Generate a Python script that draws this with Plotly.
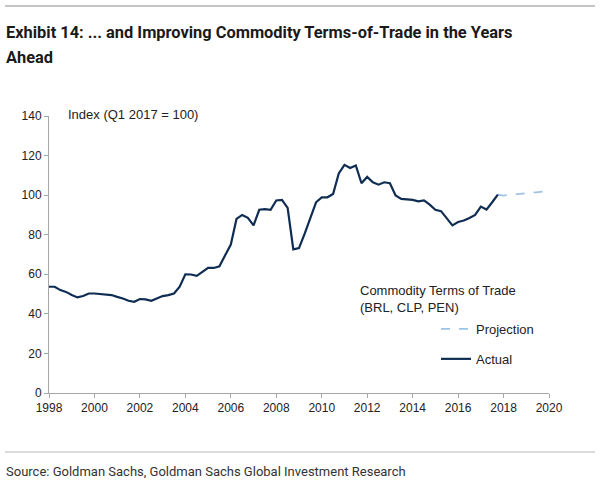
import plotly.graph_objects as go

# ---- data ----
start_year = 1998
actual_values = [
    53.7, 53.7, 52.0, 51.1,   # 1998
    49.5, 48.3, 49.0, 50.3,   # 1999
    50.3, 50.0, 49.8, 49.5,   # 2000
    48.6, 47.8, 46.6, 46.1,   # 2001
    47.5, 47.3, 46.6, 47.8,   # 2002
    49.0, 49.5, 50.3, 53.7,   # 2003
    60.0, 59.9, 59.2, 61.2,   # 2004
    63.2, 63.2, 64.0, 69.6,   # 2005
    75.0, 88.0, 90.0, 88.5,   # 2006
    84.7, 92.6, 92.9, 92.6,   # 2007
    97.3, 97.6, 93.6, 72.6,   # 2008
    73.2, 80.5, 88.9, 96.4,   # 2009
    98.9, 98.9, 100.6, 111.0, # 2010
    115.3, 113.7, 115.0, 106.0,  # 2011
    109.2, 106.5, 105.3, 106.5,  # 2012
    106.0, 99.8, 98.1, 97.9,  # 2013
    97.6, 96.9, 97.3, 95.2,   # 2014
    92.6, 91.9, 88.0, 84.7,   # 2015
    86.4, 87.2, 88.5, 90.0,   # 2016
    94.2, 92.7, 96.4, 100.3,  # 2017
]
actual_x = [start_year + 0.25 * i for i in range(len(actual_values))]

projection_x = [2017.75, 2018.0, 2019.75]
projection_values = [100.3, 99.8, 101.8]

x_ticks = list(range(1998, 2021, 2))
y_ticks = list(range(0, 141, 20))

title_line1 = "Exhibit 14: ... and Improving Commodity Terms-of-Trade in the Years"
title_line2 = "Ahead"
source_text = "Source: Goldman Sachs, Goldman Sachs Global Investment Research"
index_label = "Index (Q1 2017 = 100)"
legend_title = "Commodity Terms of Trade<br>(BRL, CLP, PEN)"

# ---- figure ----
W, H = 600, 485
L, R, T, B = 49, 51, 116, 92
pw, ph = W - L - R, H - T - B

def px(xp):
    return (xp - L) / pw

def py(yp):
    return (H - B - yp) / ph

TITLE_FONT = "Roboto, Liberation Sans, sans-serif"
BODY_FONT = "Liberation Sans, Arial, sans-serif"

fig = go.Figure()
fig.add_trace(go.Scatter(
    x=projection_x, y=projection_values, mode="lines", name="Projection",
    line=dict(color="#9dc3e6", width=1.8, dash="dash"), legendgroup="p",
))
fig.add_trace(go.Scatter(
    x=actual_x, y=actual_values, mode="lines", name="Actual",
    line=dict(color="#0f2d52", width=2.2), legendgroup="a",
))

axis_common = dict(
    showline=True, linecolor="#a6a6a6", linewidth=1,
    ticks="outside", tickcolor="#a6a6a6", ticklen=4, tickwidth=1,
    showgrid=False, zeroline=False,
    tickfont=dict(family=BODY_FONT, size=12, color="#222222"),
)

fig.update_layout(
    width=W, height=H,
    margin=dict(l=L, r=R, t=T, b=B, pad=0),
    paper_bgcolor="white", plot_bgcolor="white",
    showlegend=True,
    legend=dict(
        x=px(436), y=py(314), xanchor="left", yanchor="top",
        font=dict(family=BODY_FONT, size=13, color="#222222"),
        tracegroupgap=10, bgcolor="rgba(0,0,0,0)",
        traceorder="grouped",
    ),
    xaxis=dict(range=[1998, 2020], tickvals=x_ticks, **axis_common),
    yaxis=dict(range=[0, 140], tickvals=y_ticks, **axis_common),
    yaxis2=dict(range=[0, 140], tickvals=y_ticks, overlaying="y", side="right",
                anchor="x", **axis_common),
)

ann = []
ann.append(dict(text="<b>%s</b>" % title_line1, x=px(4), y=py(33), xref="paper", yref="paper",
                xanchor="left", yanchor="middle", showarrow=False,
                font=dict(family=TITLE_FONT, size=16.4, color="#1a1a1a")))
ann.append(dict(text="<b>%s</b>" % title_line2, x=px(4), y=py(57), xref="paper", yref="paper",
                xanchor="left", yanchor="middle", showarrow=False,
                font=dict(family=TITLE_FONT, size=16.4, color="#1a1a1a")))
ann.append(dict(text=source_text, x=px(4), y=py(471), xref="paper", yref="paper",
                xanchor="left", yanchor="middle", showarrow=False,
                font=dict(family=TITLE_FONT, size=13, color="#333333")))
ann.append(dict(text=index_label, x=px(66), y=py(115), xref="paper", yref="paper",
                xanchor="left", yanchor="middle", showarrow=False,
                font=dict(family=BODY_FONT, size=13, color="#222222")))
ann.append(dict(text=legend_title, x=px(358), y=py(298.5), xref="paper", yref="paper",
                xanchor="left", yanchor="middle", align="left", showarrow=False,
                font=dict(family=BODY_FONT, size=13, color="#222222")))
fig.update_layout(annotations=ann)

fig.add_shape(type="line", xref="paper", yref="paper", x0=px(5), x1=px(595), y0=py(6), y1=py(6),
              line=dict(color="#c0c0c0", width=1.5))
fig.add_shape(type="line", xref="x domain", yref="y domain", x0=px(5), x1=px(595), y0=py(6), y1=py(6),
              line=dict(color="#c0c0c0", width=1.5))
fig.add_shape(type="line", xref="paper", yref="paper", x0=px(5), x1=px(595), y0=py(452), y1=py(452),
              line=dict(color="#d0d0d0", width=1.5))

fig.write_html("out.html", config={"displayModeBar": False},
               post_script="document.body.style.margin='0px';document.body.style.overflow='hidden';window.scrollTo(0,0);")
